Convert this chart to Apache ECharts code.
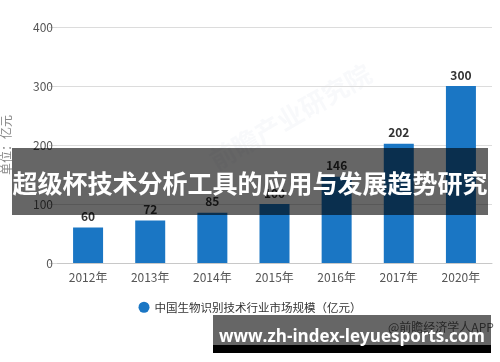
<!DOCTYPE html>
<html>
<head>
<meta charset="utf-8">
<script src="https://cdn.jsdelivr.net/npm/echarts@6/dist/echarts.min.js"></script>
<style>html,body{margin:0;padding:0;background:#fff}#c{width:500px;height:362px}</style>
</head>
<body>
<div id="c"></div>
<script>
var categories = ['2012年', '2013年', '2014年', '2015年', '2016年', '2017年', '2020年'];
var values = [60, 72, 85, 100, 146, 202, 300];
var yTicks = [0, 100, 200, 300, 400];
var seriesName = '中国生物识别技术行业市场规模（亿元）';
var unitName = '单位：亿元';
var bannerText = '超级杯技术分析工具的应用与发展趋势研究';
var footerText = 'www.zh-index-leyuesports.com';
var sourceText = '@前瞻经济学人APP';

var chart = echarts.init(document.getElementById('c'), null, {renderer: 'canvas'});
var font = '"Noto Sans CJK SC", "Noto Sans", sans-serif';
chart.setOption({
  animation: false,
  textStyle: {fontFamily: font},
  grid: {left: 57, right: 8, top: 27, bottom: 99, containLabel: false, outerBoundsMode: 'none'},
  legend: {
    bottom: 44, left: 'center',
    icon: 'circle', itemWidth: 11, itemHeight: 11, itemGap: 6,
    textStyle: {fontSize: 11.5, color: '#333', fontFamily: font},
    data: [seriesName]
  },
  xAxis: {
    type: 'category', data: categories,
    axisLine: {lineStyle: {color: '#c8c8c8'}},
    axisTick: {alignWithLabel: true, length: 5, lineStyle: {color: '#c8c8c8'}},
    axisLabel: {fontSize: 12, color: '#555', margin: 8, fontFamily: font}
  },
  yAxis: {
    type: 'value', min: yTicks[0], max: yTicks[yTicks.length - 1], interval: 100,
    name: unitName, nameLocation: 'middle', nameGap: 45, nameRotate: 90,
    nameTextStyle: {fontSize: 12, color: '#888', fontFamily: font},
    axisLine: {show: false},
    axisTick: {show: true, length: 8, lineStyle: {color: '#d8d8d8'}},
    splitLine: {lineStyle: {color: '#dcdcdc'}},
    axisLabel: {fontSize: 12, color: '#555', margin: 4, fontFamily: font}
  },
  series: [{
    name: seriesName, type: 'bar', data: values, barWidth: 30,
    itemStyle: {color: '#1a76c4'},
    label: {show: true, position: 'top', distance: 5, fontSize: 12, fontWeight: 'bold', color: '#333', fontFamily: font}
  }],
  graphic: [
    {type: 'text', left: 205, top: 60, rotation: Math.PI / 6, silent: true, z: 0,
      style: {text: '前瞻产业研究院', fontSize: 26, fontWeight: 'bold', fill: 'rgba(200,210,222,0.13)', fontFamily: font}},
    {type: 'text', left: 388, top: 321, silent: true, z: 50,
      style: {text: sourceText, fontSize: 12, fill: '#666', fontFamily: font}},
    {type: 'rect', shape: {x: 12, y: 148, width: 476, height: 67}, silent: true, z: 100,
      style: {fill: 'rgba(0,0,0,0.6)'}},
    {type: 'text', x: 250, y: 183, silent: true, z: 101,
      style: {text: bannerText, fontSize: 25, fontWeight: 'bold', fill: '#fff', align: 'center', verticalAlign: 'middle', fontFamily: font}},
    {type: 'rect', shape: {x: 213, y: 315, width: 278, height: 30}, silent: true, z: 100,
      style: {fill: 'rgba(0,0,0,0.6)'}},
    {type: 'rect', shape: {x: 213, y: 345, width: 278, height: 8}, silent: true, z: 100,
      style: {fill: '#000'}},
    {type: 'text', x: 352, y: 337, silent: true, z: 101,
      style: {text: footerText, fontSize: 17, fontWeight: 'bold', fill: '#fff', align: 'center', verticalAlign: 'middle', fontFamily: '"Open Sans", "Noto Sans", sans-serif'}}
  ]
});
</script>
</body>
</html>
